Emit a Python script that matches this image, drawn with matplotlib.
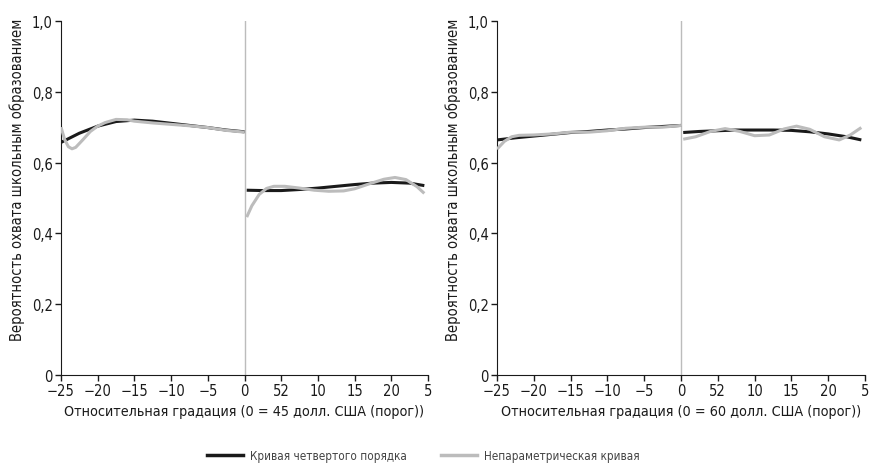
import matplotlib
matplotlib.use("Agg")
import matplotlib.pyplot as plt
from matplotlib.lines import Line2D

plt.rcParams['font.family'] = ['DejaVu Sans']
plt.rcParams['font.stretch'] = 'condensed'

# --- data ---
tick_pos = [-25, -20, -15, -10, -5, 0, 5, 10, 15, 20, 25]
tick_labels = ['\u221225', '\u221220', '\u221215', '\u221210', '\u22125', '0', '52', '10', '15', '20', '5']
y_ticks = [0, 0.2, 0.4, 0.6, 0.8, 1.0]
y_tick_labels = ['0', '0,2', '0,4', '0,6', '0,8', '1,0']

# panel 1 (threshold 45 USD)
p1_fit_lx = [-25, -22.5, -20, -17.5, -15, -12.5, -10, -7.5, -5, -2.5, 0]
p1_fit_ly = [0.657, 0.683, 0.703, 0.716, 0.720, 0.717, 0.711, 0.705, 0.699, 0.692, 0.687]
p1_np_lx = [-25, -24.5, -24, -23.5, -23, -22, -21, -20, -19, -17.5, -16, -15, -12.5, -10, -7.5, -5, -2.5, 0]
p1_np_ly = [0.700, 0.665, 0.645, 0.639, 0.643, 0.665, 0.688, 0.703, 0.713, 0.722, 0.721, 0.717, 0.712, 0.708, 0.704, 0.699, 0.691, 0.686]
p1_fit_rx = [0.3, 2.5, 5, 7.5, 10, 12.5, 15, 17.5, 20, 22.5, 24.5]
p1_fit_ry = [0.522, 0.521, 0.521, 0.524, 0.528, 0.533, 0.538, 0.542, 0.544, 0.542, 0.535]
p1_np_rx = [0.3, 1, 2, 3, 4, 5.5, 7.5, 9.5, 11.5, 13.5, 15, 17, 19, 20.5, 22, 23.5, 24.5]
p1_np_ry = [0.446, 0.478, 0.510, 0.527, 0.533, 0.533, 0.528, 0.522, 0.519, 0.520, 0.526, 0.540, 0.553, 0.558, 0.552, 0.532, 0.513]

# panel 2 (threshold 60 USD)
p2_fit_lx = [-25, -22.5, -20, -17.5, -15, -12.5, -10, -7.5, -5, -2.5, 0]
p2_fit_ly = [0.664, 0.670, 0.675, 0.680, 0.685, 0.688, 0.692, 0.695, 0.699, 0.702, 0.705]
p2_np_lx = [-25, -24, -23, -22, -20, -17.5, -15, -12.5, -10, -7.5, -5, -2.5, 0]
p2_np_ly = [0.638, 0.660, 0.673, 0.677, 0.678, 0.681, 0.686, 0.686, 0.690, 0.697, 0.700, 0.700, 0.705]
p2_fit_rx = [0.3, 2.5, 5, 7.5, 10, 12.5, 15, 17.5, 20, 22.5, 24.5]
p2_fit_ry = [0.685, 0.688, 0.690, 0.692, 0.692, 0.692, 0.691, 0.687, 0.681, 0.673, 0.664]
p2_np_rx = [0.3, 2, 4, 6, 8, 10, 12, 14, 15.7, 17.5, 19.5, 21.5, 23, 24.5]
p2_np_ry = [0.666, 0.673, 0.688, 0.696, 0.688, 0.676, 0.678, 0.695, 0.703, 0.694, 0.673, 0.664, 0.678, 0.699]

x_labels = ['Относительная градация (0 = 45 долл. США (порог))',
            'Относительная градация (0 = 60 долл. США (порог))']
y_label = 'Вероятность охвата школьным образованием'
legend_labels = ['Кривая четвертого порядка', 'Непараметрическая кривая']

BLACK = '#1a1a1a'
GRAY = '#bcbcbc'

fig = plt.figure(figsize=(8.73, 4.64), dpi=100)
ax1 = fig.add_axes([61 / 873, 1 - 376 / 464, 367 / 873, 354 / 464])
ax2 = fig.add_axes([497 / 873, 1 - 376 / 464, 368 / 873, 354 / 464])

panels = [
    (ax1, p1_fit_lx, p1_fit_ly, p1_np_lx, p1_np_ly, p1_fit_rx, p1_fit_ry, p1_np_rx, p1_np_ry, x_labels[0]),
    (ax2, p2_fit_lx, p2_fit_ly, p2_np_lx, p2_np_ly, p2_fit_rx, p2_fit_ry, p2_np_rx, p2_np_ry, x_labels[1]),
]

for ax, flx, fly, nlx, nly, frx, fry, nrx, nry, xl in panels:
    ax.axvline(0, color=GRAY, lw=1.0, zorder=1)
    ax.plot(flx, fly, color=BLACK, lw=2.2, solid_capstyle='butt', zorder=2)
    ax.plot(frx, fry, color=BLACK, lw=2.2, solid_capstyle='butt', zorder=2)
    ax.plot(nlx, nly, color=GRAY, lw=2.2, solid_capstyle='butt', zorder=3)
    ax.plot(nrx, nry, color=GRAY, lw=2.2, solid_capstyle='butt', zorder=3)
    ax.set_xlim(-25, 25)
    ax.set_ylim(0, 1.0)
    ax.set_xticks(tick_pos)
    ax.set_xticklabels(tick_labels)
    ax.set_yticks(y_ticks)
    ax.set_yticklabels(y_tick_labels)
    ax.spines['top'].set_visible(False)
    ax.spines['right'].set_visible(False)
    ax.spines['left'].set_color(BLACK)
    ax.spines['bottom'].set_color(BLACK)
    ax.tick_params(direction='out', length=4, width=1, colors=BLACK, labelsize=10.5)
    ax.tick_params(axis='x', pad=2)
    ax.tick_params(axis='y', pad=2)
    ax.set_xlabel(xl, fontsize=10.3, color=BLACK, labelpad=4)
    ax.set_ylabel(y_label, fontsize=10.5, color=BLACK)
    # label sits a bit above the axes centre in the original
    ax.yaxis.set_label_coords(-0.098, 0.553)

handles = [Line2D([], [], color=BLACK, lw=2.5), Line2D([], [], color=GRAY, lw=2.5)]
fig.legend(handles, legend_labels, loc='center', bbox_to_anchor=(423 / 873, 1 - 457 / 464), ncol=2,
           frameon=False, fontsize=8.4, handlelength=3.1, columnspacing=2.9, handletextpad=0.6,
           labelcolor='#444444', borderpad=0)

fig.savefig('out.png', dpi=100)
